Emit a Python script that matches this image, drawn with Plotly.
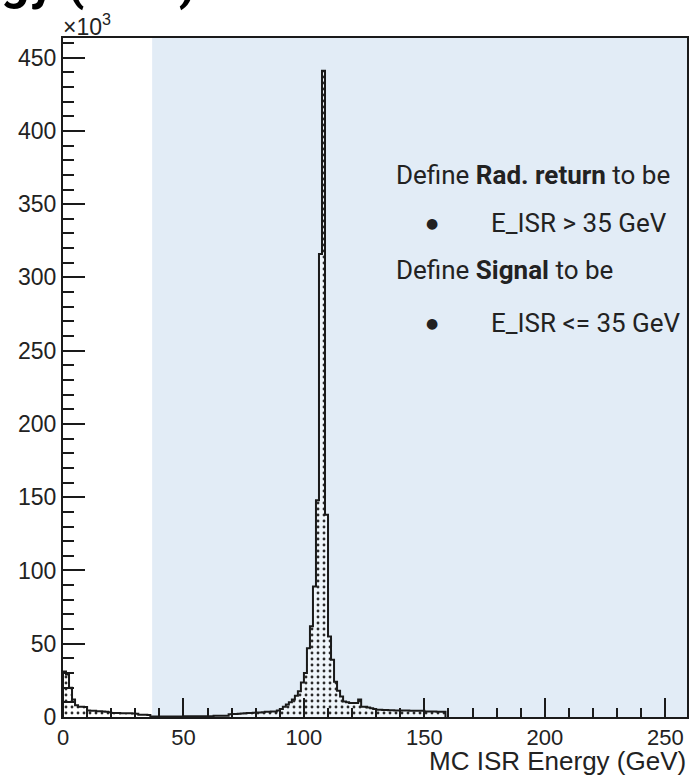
import numpy as np
import plotly.graph_objects as go

# Histogram of MC ISR energy: 1.25 GeV bins starting at 0 GeV, entries in units of 10^3
bin_width = 1.25
bin_start = 0.0
counts_k = [
    31, 29, 20, 12, 8, 7, 7, 6.8, 4.5, 4.3,          # 0 - 12.5
    4.2, 4.0, 3.9, 3.8, 3.5, 3.2, 2.8, 2.7, 2.7, 2.6,  # 12.5 - 25
    2.6, 2.5, 2.5, 2.4, 2.3, 1.6, 1.5, 1.5, 1.4, 0.4,  # 25 - 37.5
    0.3, 0.3, 0.3, 0.3, 0.3, 0.3, 0.3, 0.3, 0.3, 0.3,  # 37.5 - 50
    0.5, 0.5, 0.5, 0.5, 0.5, 0.5, 0.5, 0.5, 0.5, 0.5,  # 50 - 62.5
    0.8, 0.8, 0.8, 0.8, 0.8, 1.8, 2.0, 2.0, 2.2, 2.4,  # 62.5 - 75
    2.6, 2.7, 2.8, 2.9, 3.0, 3.1, 3.3, 3.5, 3.6, 3.7,  # 75 - 87.5
    3.8, 4.5, 5.5, 7, 8.5, 10, 12, 14.5, 17.5, 23.6,   # 87.5 - 100
    30, 47, 62, 89, 148, 316, 441, 138, 55, 39,        # 100 - 112.5
    24, 18, 14, 10.6, 10, 9.5, 9.5, 9.5, 12, 7,        # 112.5 - 125
    7, 6.5, 6, 5.5, 5, 5, 4.8, 4.8, 4.6, 4.6,          # 125 - 137.5
    4.5, 4.5, 4.5, 4.4, 4.4, 4.3, 4.3, 4.2, 4.2, 4.2,  # 137.5 - 150
    3.8, 3.8, 3.7, 3.7, 3.6, 3.6, 3.5,                 # 150 - 158.75
]

y_ticks = [0, 50, 100, 150, 200, 250, 300, 350, 400, 450]
x_ticks = [0, 50, 100, 150, 200, 250]
x_range = [0, 259]
y_range = [0, 463.4]
cut_low = 37  # start of the radiative-return band

edges = bin_start + bin_width * np.arange(len(counts_k) + 1)
centers = 0.5 * (edges[:-1] + edges[1:])

fig = go.Figure()

# dotted fill of the histogram
fig.add_trace(go.Bar(
    x=centers, y=counts_k, width=bin_width,
    marker=dict(
        color="rgba(0,0,0,0)",
        line=dict(width=0),
        pattern=dict(shape=".", fgcolor="#2a2a2a", bgcolor="rgba(255,255,255,0.45)",
                     size=6, solidity=0.18, fillmode="replace"),
    ),
    hoverinfo="skip", showlegend=False,
))

# step outline
step_x = [edges[0]] + list(edges)
step_y = [0] + list(counts_k) + [0]
fig.add_trace(go.Scatter(
    x=step_x, y=step_y, mode="lines", line=dict(shape="hv", color="#1a1a1a", width=2),
    hoverinfo="skip", showlegend=False,
))

# radiative-return band
fig.add_shape(type="rect", xref="x", yref="paper", x0=cut_low, x1=x_range[1], y0=0, y1=1,
              fillcolor="#e2ecf6", line=dict(width=0), layer="below")

y_font = dict(family="Liberation Sans, Arial, sans-serif", size=23, color="#222222")
x_font = dict(family="Liberation Sans, Arial, sans-serif", size=22, color="#222222")
fig.update_layout(
    width=690, height=780,
    margin=dict(l=63, r=1, t=38, b=63),
    paper_bgcolor="white", plot_bgcolor="white",
    bargap=0,
    xaxis=dict(
        range=x_range, tickvals=x_ticks, ticks="inside", ticklen=19, tickwidth=2,
        tickcolor="#1a1a1a", showgrid=False, zeroline=False,
        showline=True, linecolor="#1a1a1a", linewidth=2, mirror=True,
        tickfont=x_font,
        minor=dict(dtick=10, ticks="inside", ticklen=9, tickwidth=2, tickcolor="#1a1a1a", showgrid=False),
    ),
    yaxis=dict(
        range=y_range, tickvals=y_ticks, ticks="inside", ticklen=22, tickwidth=2,
        tickcolor="#1a1a1a", showgrid=False, zeroline=False,
        showline=True, linecolor="#1a1a1a", linewidth=2, mirror=True,
        tickfont=y_font,
        minor=dict(dtick=10, ticks="inside", ticklen=11, tickwidth=2, tickcolor="#1a1a1a", showgrid=False),
    ),
)

def px_x(px):
    return (px - 63) / 626.0

def px_y(py):
    return (717 - py) / 679.0

text_font = dict(family="Roboto, sans-serif", size=26, color="#222222")
notes = [
    ("Define <b>Rad. return</b> to be", 395, 175),
    ("E_ISR > 35 GeV", 490, 223),
    ("Define <b>Signal</b> to be", 395, 270),
    ("E_ISR <= 35 GeV", 490, 323),
]
for txt, x, y in notes:
    fig.add_annotation(text=txt, xref="paper", yref="paper", x=px_x(x), y=px_y(y),
                       xanchor="left", yanchor="middle", showarrow=False, font=text_font)
for y in (223, 323):
    fig.add_annotation(text="●", xref="paper", yref="paper", x=px_x(433), y=px_y(y),
                       xanchor="center", yanchor="middle", showarrow=False,
                       font=dict(family="DejaVu Sans", size=14, color="#222222"))

# axis title and exponent label
fig.add_annotation(text="MC ISR Energy (GeV)", xref="paper", yref="paper", x=px_x(690), y=px_y(761),
                   xanchor="right", yanchor="middle", showarrow=False,
                   font=dict(family="Liberation Sans, Arial, sans-serif", size=26, color="#222222"))
fig.add_annotation(text="×10<sup>3</sup>", xref="paper", yref="paper", x=px_x(61), y=px_y(25),
                   xanchor="left", yanchor="middle", showarrow=False,
                   font=dict(family="Liberation Sans, Arial, sans-serif", size=23, color="#222222"))

# page title
fig.add_annotation(text="<b>MC ISR Energy (GeV)</b>", xref="paper", yref="paper", x=px_x(198), y=px_y(13),
                   xanchor="right", yanchor="bottom", showarrow=False,
                   font=dict(family="Roboto, sans-serif", size=50, color="#000000"))

fig.write_html("out.html")
